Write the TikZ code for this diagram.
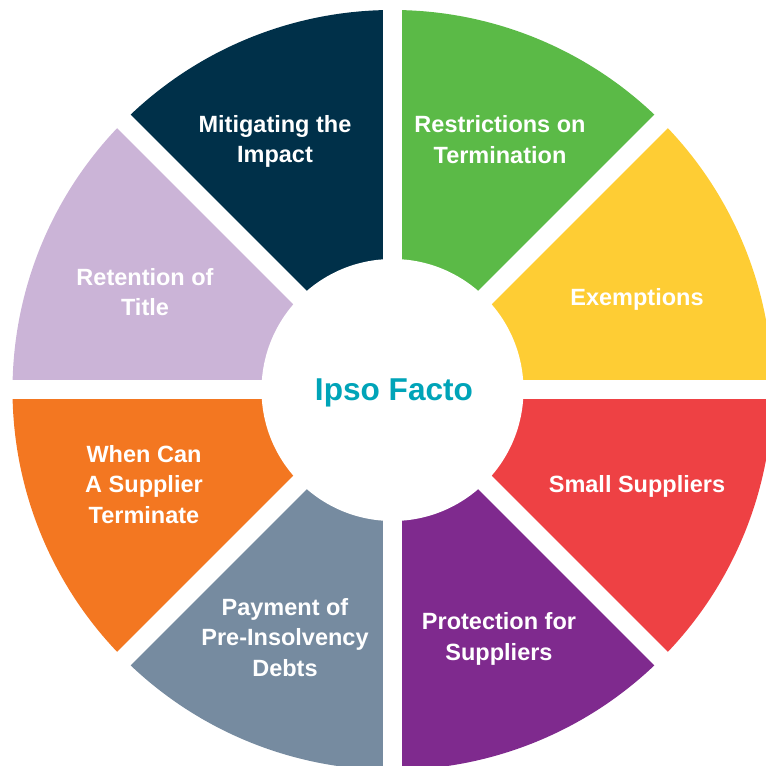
\documentclass[tikz,border=0pt]{standalone}
\usepackage{fontspec}
\setmainfont{Liberation Sans}
\definecolor{cnavy}{RGB}{0,48,73}
\definecolor{cgreen}{RGB}{91,186,71}
\definecolor{cyellow}{RGB}{254,205,52}
\definecolor{cred}{RGB}{238,65,68}
\definecolor{cpurple}{RGB}{127,42,142}
\definecolor{cgray}{RGB}{118,139,160}
\definecolor{corange}{RGB}{243,119,33}
\definecolor{clav}{RGB}{203,180,215}
\definecolor{cteal}{RGB}{0,164,184}
\begin{document}
\begin{tikzpicture}[x=1pt,y=1pt,
  label/.style={text=white,align=center,font=\fontsize{23.5}{30.5}\selectfont\bfseries,inner sep=0pt},
  gapline/.style={white,line width=19pt}]
\useasboundingbox (0,0) rectangle (766,766);
\clip (0,0) rectangle (766,766);
\coordinate (C) at (392.5,376);
\def\R{380}
\foreach \a/\c in {90/cnavy,45/cgreen,0/cyellow,-45/cred,-90/cpurple,-135/cgray,180/corange,135/clav}{
  \fill[\c] (C) -- ++(\a:\R) arc[start angle=\a, delta angle=45, radius=\R] -- cycle;
}
\foreach \a in {0,45,90,135}{
  \draw[gapline] (C) ++(\a:420) -- ++(\a+180:840);
}
\fill[white] (C) circle[radius=131];
\node[label] (mit) at (275,624.5) {Mitigating the\\Impact};
\node[label] (res) at (500,626.5) {Restrictions on\\Termination};
\node[label] (exe) at (637,467) {Exemptions};
\node[label] (sma) at (637,280) {Small Suppliers};
\node[label] (pro) at (499,127) {Protection for\\Suppliers};
\node[label] (pay) at (285,128.5) {Payment of\\Pre-Insolvency\\Debts};
\node[label] (whe) at (144,281.5) {When Can\\A Supplier\\Terminate};
\node[label] (ret) at (145,474) {Retention of\\Title};
\node[text=cteal,font=\fontsize{31.6}{38}\selectfont\bfseries,inner sep=0pt] (ipso) at (394,373.5) {Ipso Facto};
\end{tikzpicture}
\end{document}
